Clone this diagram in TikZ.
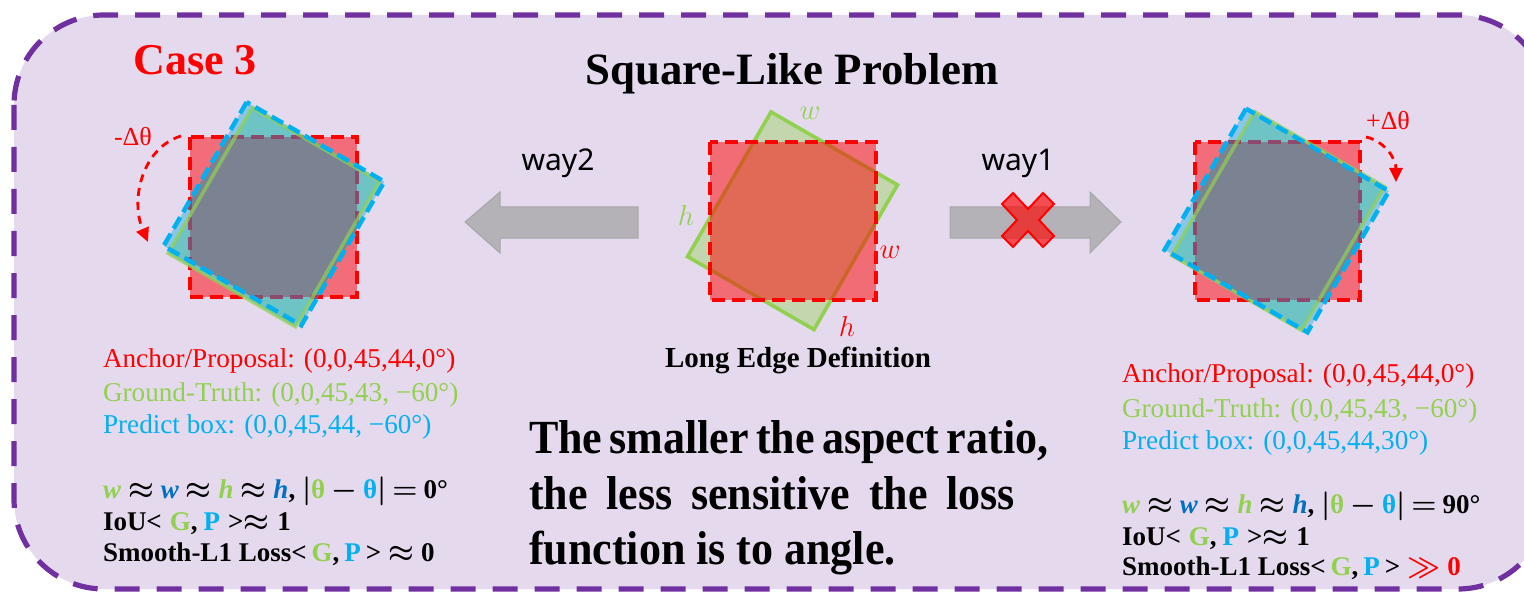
\documentclass[tikz,border=0pt]{standalone}
\usepackage{fontspec}
\setmainfont{Liberation Serif}
\newfontfamily\wayfont{Noto Sans}
\usetikzlibrary{arrows.meta}
\definecolor{lav}{HTML}{E5DAED}
\definecolor{purp}{HTML}{7030A0}
\definecolor{gtgreen}{HTML}{92D050}
\definecolor{pblue}{HTML}{00B0F0}
\definecolor{dblue}{HTML}{0070C0}
\definecolor{redfillc}{HTML}{F26C7A}
\definecolor{tealc}{HTML}{6EC4C5}
\definecolor{lblue}{HTML}{88C6EA}
\definecolor{grayov}{HTML}{7B8393}
\definecolor{redmute}{HTML}{8E4A6C}
\definecolor{arrowgray}{HTML}{B4B2B7}
\definecolor{arrowedge}{HTML}{A7A6AA}
\newcommand\apx{\hspace{3.5pt}$\approx$\hspace{3.5pt}}
\begin{document}
\begin{tikzpicture}[x=0.5pt,y=-0.5pt,
  txt/.style={inner sep=0pt, outer sep=0pt},
  lbl/.style={txt, anchor=base west, font=\fontsize{13.6}{16}\selectfont},
  blbl/.style={txt, anchor=base west, font=\fontsize{13.5}{16}\selectfont\bfseries\boldmath},
  para/.style={txt, anchor=base west, font=\fontsize{22}{27}\selectfont\bfseries},
  redborder/.style={draw=red, line width=2pt, dash pattern=on 6.5pt off 3.5pt},
  muteborder/.style={draw=redmute, line width=2pt, dash pattern=on 6.5pt off 3.5pt},
  greenline/.style={draw=gtgreen, line width=1.8pt},
  bluedash/.style={draw=pblue, line width=2.2pt, dash pattern=on 6.5pt off 3pt},
  arcarrow/.style={draw=red, line width=1.4pt, dash pattern=on 4pt off 3pt, -{Triangle[length=7pt,width=6.5pt]}},
  grayarrow/.style={fill=arrowgray, draw=arrowedge, line width=0.5pt},
  mathlbl/.style={txt, font=\fontsize{14}{16}\selectfont}
]
\useasboundingbox (0,0) rectangle (1524,593);
\clip (0,0) rectangle (1524,593);

% background frame
\filldraw[fill=lav, draw=purp, line width=2.6pt, dash pattern=on 12.5pt off 8.5pt, rounded corners=45pt]
  (14,15) rectangle (1548,589);

% titles
\node[txt, text=red, font=\fontsize{22}{26}\selectfont\bfseries] (case) at (195,60) {Case 3};
\node[txt, font=\fontsize{22.4}{26}\selectfont\bfseries] (title) at (792,74) {Square-Like Problem};

% ---------------- centre figure ----------------
\filldraw[fill=gtgreen, fill opacity=0.4, greenline, shift={(792.5,220.75)}, rotate=-30]
  (-73,-83.5) rectangle (73,83.5);
\fill[red, fill opacity=0.5] (710,142) rectangle (876,300);
\draw[redborder] (710,142) rectangle (876,300);
\node[mathlbl, text=gtgreen] (cw1) at (810,113) {$w$};
\node[mathlbl, text=gtgreen] (ch1) at (686,216) {$h$};
\node[mathlbl, text=red] (cw2) at (890,252) {$w$};
\node[mathlbl, text=red] (ch2) at (847,326) {$h$};
\node[txt, font=\fontsize{14.5}{17}\selectfont\bfseries] (led) at (798,360) {Long Edge Definition};

% ---------------- arrows ----------------
\filldraw[grayarrow] (465,222) -- (500,192) -- (500,207) -- (638,207) -- (638,238) -- (500,238) -- (500,253) -- cycle;
\filldraw[grayarrow] (950,207) -- (1090,207) -- (1090,192) -- (1121,222) -- (1090,253) -- (1090,238) -- (950,238) -- cycle;
\node[txt, font=\wayfont\fontsize{15}{18}\selectfont] (way2) at (558,163) {way2};
\node[txt, font=\wayfont\fontsize{15}{18}\selectfont] (way1) at (1018,163) {way1};
\filldraw[fill=red, fill opacity=0.65, draw=red, line width=1pt, shift={(1028,220)}]
  (-26,-16) -- (-15,-27) -- (0,-11) -- (15,-27) -- (26,-16) -- (11,0) -- (26,16) -- (15,27) -- (0,11) -- (-15,27) -- (-26,16) -- (-11,0) -- cycle;

% ---------------- left figure ----------------
\fill[redfillc] (190,137) rectangle (357,297);
\draw[redborder] (190,137) rectangle (357,297);
\fill[lblue, shift={(274,213.75)}, rotate=-30] (-79.5,-83) rectangle (79.5,83);
\fill[tealc, shift={(273.75,217.25)}, rotate=-30] (-73.5,-84) rectangle (73.5,84);
\begin{scope}
  \clip[shift={(274,213.75)}, rotate=-30] (-79.5,-83) rectangle (79.5,83);
  \fill[grayov] (190,137) rectangle (357,297);
  \draw[muteborder] (190,137) rectangle (357,297);
\end{scope}
\draw[greenline, draw opacity=0.7, shift={(273.75,217.25)}, rotate=-30] (-73.5,-84) rectangle (73.5,84);
\draw[bluedash, shift={(274,213.75)}, rotate=-30] (-79.5,-83) rectangle (79.5,83);
\coordinate (la) at (181,136);
\coordinate (lb) at (148,242);
\draw[arcarrow] (la) .. controls (142,148) and (130,200) .. (lb);
\node[txt, text=red, font=\fontsize{13}{15}\selectfont] (ldt) at (133,137) {-Δθ};

% ---------------- right figure ----------------
\fill[redfillc] (1195,142) rectangle (1360,300);
\draw[redborder] (1195,142) rectangle (1360,300);
\fill[lblue, shift={(1276.75,220.5)}, rotate=-30] (-82.5,-81.5) rectangle (82.5,81.5);
\fill[tealc, shift={(1278,221)}, rotate=-30] (-75,-83) rectangle (75,83);
\begin{scope}
  \clip[shift={(1276.75,220.5)}, rotate=-30] (-82.5,-81.5) rectangle (82.5,81.5);
  \fill[grayov] (1195,142) rectangle (1360,300);
  \draw[muteborder] (1195,142) rectangle (1360,300);
\end{scope}
\draw[greenline, draw opacity=0.7, shift={(1278,221)}, rotate=-30] (-75,-83) rectangle (75,83);
\draw[bluedash, shift={(1276.75,220.5)}, rotate=-30] (-82.5,-81.5) rectangle (82.5,81.5);
\coordinate (ra) at (1366,137);
\coordinate (rb) at (1396,182);
\draw[arcarrow] (ra) .. controls (1384,141) and (1396,158) .. (rb);
\node[txt, text=red, font=\fontsize{13}{15}\selectfont] (rdt) at (1388,121) {+Δθ};

% ---------------- left text ----------------
\node[lbl, text=red] (l1) at (103,367) {Anchor/Proposal: (0,0,45,44,0°)};
\node[lbl, text=gtgreen] (l2) at (103,401) {Ground-Truth: (0,0,45,43, −60°)};
\node[lbl, text=pblue] (l3) at (103,433) {Predict box: (0,0,45,44, −60°)};
\node[blbl] (l4) at (103,498) {{\color{gtgreen}\textit{w}}\apx{\color{dblue}\textit{w}}\apx{\color{gtgreen}\textit{h}}\apx{\color{dblue}\textit{h}}, $|${\color{gtgreen}θ}\hspace{3pt}$-$\hspace{3pt}{\color{pblue}θ}$|$\hspace{3pt}$=$\hspace{3pt}0°};
\node[blbl] (l5) at (103,530) {IoU<\hspace{4pt}{\color{gtgreen}G},\hspace{3pt}{\color{pblue}P}\hspace{4pt}>$\approx$\hspace{4pt}1};
\node[blbl] (l6) at (103,561) {Smooth-L1 Loss<\hspace{2.5pt}{\color{gtgreen}G},\hspace{2.5pt}{\color{pblue}P}\hspace{2.5pt}>\apx 0};

% ---------------- right text ----------------
\node[lbl, text=red] (r1) at (1122,382) {Anchor/Proposal: (0,0,45,44,0°)};
\node[lbl, text=gtgreen] (r2) at (1122,417) {Ground-Truth: (0,0,45,43, −60°)};
\node[lbl, text=pblue] (r3) at (1122,449) {Predict box: (0,0,45,44,30°)};
\node[blbl] (r4) at (1122,513) {{\color{gtgreen}\textit{w}}\apx{\color{dblue}\textit{w}}\apx{\color{gtgreen}\textit{h}}\apx{\color{dblue}\textit{h}}, $|${\color{gtgreen}θ}\hspace{3pt}$-$\hspace{3pt}{\color{pblue}θ}$|$\hspace{3pt}$=$\hspace{3pt}90°};
\node[blbl] (r5) at (1122,545) {IoU<\hspace{4pt}{\color{gtgreen}G},\hspace{3pt}{\color{pblue}P}\hspace{4pt}>$\approx$\hspace{4pt}1};
\node[blbl] (r6) at (1122,575) {Smooth-L1 Loss<\hspace{2.5pt}{\color{gtgreen}G},\hspace{2.5pt}{\color{pblue}P}\hspace{2.5pt}>\hspace{3.5pt}{\color{red}$\gg$\hspace{3.5pt}0}};

% ---------------- centre paragraph ----------------
\node[para] (p1) at (529,453) {\scalebox{1}[1.08]{\makebox[243pt][s]{The smaller the aspect ratio,}}};
\node[para] (p2) at (529,509) {\scalebox{1}[1.08]{\makebox[243pt][s]{the less sensitive the loss}}};
\node[para] (p3) at (529,564) {\scalebox{1}[1.08]{function is to angle.}};
\end{tikzpicture}
\end{document}
